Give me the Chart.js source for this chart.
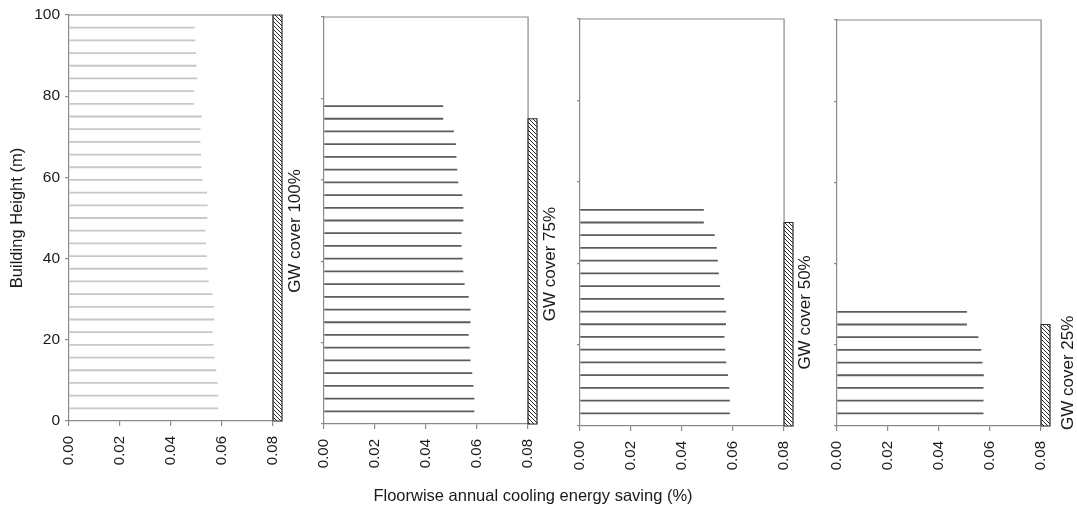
<!DOCTYPE html>
<html>
<head>
<meta charset="utf-8">
<script src="https://cdn.jsdelivr.net/npm/chart.js@4"></script>
<style>
  html, body { margin: 0; padding: 0; background: #fff; }
  #wrap { position: relative; width: 1077px; height: 510px; overflow: hidden; }
  #wrap canvas { position: absolute; top: 0; }
  #xtitle {
    position: absolute; left: 0; width: 1066px; top: 486px; text-align: center;
    font: 16.5px "Liberation Sans", Arial, sans-serif; color: #1a1a1a;
  }
</style>
</head>
<body>
<div id="wrap">
  <canvas id="c1" width="310" height="510" style="left:0px"></canvas>
  <canvas id="c2" width="256" height="510" style="left:310px"></canvas>
  <canvas id="c3" width="256" height="510" style="left:566px"></canvas>
  <canvas id="c4" width="255" height="510" style="left:822px"></canvas>
  <div id="xtitle">Floorwise annual cooling energy saving (%)</div>
</div>
<script>
// floor levels (m), bottom to top
const floorHeights = [3.125, 6.25, 9.375, 12.5, 15.625, 18.75, 21.875, 25, 28.125, 31.25,
  34.375, 37.5, 40.625, 43.75, 46.875, 50, 53.125, 56.25, 59.375, 62.5,
  65.625, 68.75, 71.875, 75, 78.125, 81.25, 84.375, 87.5, 90.625, 93.75, 96.875];

// floorwise saving, bottom floor first
const saving100 = [0.0584, 0.0584, 0.0582, 0.0576, 0.057, 0.0566, 0.0562, 0.0569, 0.0567, 0.0562,
  0.0546, 0.0541, 0.0539, 0.0536, 0.0533, 0.0541, 0.0542, 0.054, 0.0522, 0.0518,
  0.0516, 0.0514, 0.0514, 0.0519, 0.0489, 0.0489, 0.0502, 0.0499, 0.0497, 0.0494, 0.0491];
const saving75 = [0.0588, 0.0588, 0.0585, 0.058, 0.0573, 0.057, 0.0566, 0.0573, 0.0573, 0.0566,
  0.055, 0.0545, 0.0542, 0.0538, 0.0538, 0.0545, 0.0545, 0.0541, 0.0525, 0.0521,
  0.0518, 0.0516, 0.0508, 0.0466, 0.0466];
const saving50 = [0.0586, 0.0586, 0.0584, 0.0579, 0.0572, 0.0568, 0.0565, 0.0571, 0.0571, 0.0564,
  0.0548, 0.0543, 0.0539, 0.0535, 0.0527, 0.0484, 0.0484];
const saving25 = [0.0573, 0.0573, 0.0573, 0.0574, 0.0569, 0.0564, 0.0553, 0.0508, 0.0508];

const gwCover = [100, 75, 50, 25];            // green wall height (m)
const gwLabels = ['GW cover 100%', 'GW cover 75%', 'GW cover 50%', 'GW cover 25%'];
const xTicks = [0, 0.02, 0.04, 0.06, 0.08];
const yTicks = [0, 20, 40, 60, 80, 100];
const frameX = 0.08;
const gwBar = [0.08, 0.0835];                 // x extent of the hatched wall bar

Chart.defaults.font.family = '"Liberation Sans", Arial, sans-serif';
Chart.defaults.color = '#1a1a1a';

const axisGrey = '#8a8a8a';

function hatchPattern() {
  const c = document.createElement('canvas');
  c.width = 4; c.height = 4;
  const g = c.getContext('2d');
  g.fillStyle = '#fff';
  g.fillRect(0, 0, 4, 4);
  g.strokeStyle = '#2a2a2a';
  g.lineWidth = 1;
  g.beginPath();
  g.moveTo(0, 0); g.lineTo(4, 4);
  g.moveTo(-1, 3); g.lineTo(1, 5);
  g.moveTo(3, -1); g.lineTo(5, 1);
  g.stroke();
  return g.createPattern(c, 'repeat');
}

// rotated "GW cover" caption beside the wall bar
const gwText = {
  id: 'gwText',
  afterDraw(chart, args, opts) {
    const { ctx, chartArea, scales } = chart;
    ctx.save();
    ctx.translate(chartArea.right + opts.dx, scales.y.getPixelForValue(opts.at));
    ctx.rotate(-Math.PI / 2);
    ctx.font = '17px "Liberation Sans", Arial, sans-serif';
    ctx.fillStyle = '#1a1a1a';
    ctx.textAlign = 'center';
    ctx.textBaseline = 'middle';
    ctx.fillText(opts.text, 0, 0);
    ctx.restore();
  }
};

const panels = [
  { id: 'c1', data: saving100, yw: 69, pad: { top: 15, bottom: 29, right: 28 }, line: '#c8c8c8', first: true, at: 46.8, dx: 13 },
  { id: 'c2', data: saving75, yw: 14, pad: { top: 17, bottom: 26, right: 29 }, line: '#5c5c5c', first: false, at: 39.3, dx: 13 },
  { id: 'c3', data: saving50, yw: 14, pad: { top: 19, bottom: 24, right: 29 }, line: '#5c5c5c', first: false, at: 27.9, dx: 12.5 },
  { id: 'c4', data: saving25, yw: 15, pad: { top: 20, bottom: 24, right: 27 }, line: '#5c5c5c', first: false, at: 13.1, dx: 18 }
];

panels.forEach((p, i) => {
  const gw = gwCover[i];
  const floors = p.data.map((v, k) => ({ x: v, y: floorHeights[k] }));

  new Chart(document.getElementById(p.id), {
    type: 'bar',
    data: {
      datasets: [
        {
          type: 'line',
          data: [
            { x: gwBar[0], y: 0 }, { x: gwBar[1], y: 0 }, { x: gwBar[1], y: gw },
            { x: gwBar[0], y: gw }, { x: gwBar[0], y: 0 }
          ],
          borderColor: '#2e2e2e',
          borderWidth: 1.2,
          backgroundColor: hatchPattern(),
          fill: 'shape',
          pointRadius: 0,
          tension: 0,
          clip: false
        },
        {
          type: 'line',
          data: [{ x: 0, y: 100 }, { x: frameX, y: 100 }, { x: frameX, y: 0 }],
          borderColor: axisGrey,
          borderWidth: 1.2,
          fill: false,
          pointRadius: 0,
          tension: 0,
          clip: false
        },
        {
          type: 'bar',
          data: floors,
          backgroundColor: p.line,
          barThickness: 1.1,
          borderWidth: 0
        }
      ]
    },
    options: {
      indexAxis: 'y',
      responsive: false,
      animation: false,
      events: [],
      layout: { padding: { left: 0, top: p.pad.top, bottom: p.pad.bottom, right: p.pad.right } },
      plugins: {
        legend: { display: false },
        tooltip: { enabled: false },
        gwText: { text: gwLabels[i], at: p.at, dx: p.dx }
      },
      scales: {
        x: {
          type: 'linear',
          min: 0,
          max: gwBar[1],
          afterBuildTicks: s => { s.ticks = xTicks.map(v => ({ value: v })); },
          afterFit: s => { s.height = 60; },
          ticks: {
            autoSkip: false, minRotation: 90, maxRotation: 90, padding: 10,
            font: { size: 15 }, color: '#1a1a1a',
            callback: v => Number(v).toFixed(2)
          },
          grid: { drawOnChartArea: false, tickLength: 5, color: axisGrey, lineWidth: 1.2 },
          border: { color: axisGrey, width: 1.2 }
        },
        y: {
          type: 'linear',
          min: 0,
          max: 100,
          offset: false,
          afterBuildTicks: s => { s.ticks = yTicks.map(v => ({ value: v })); },
          afterFit: s => { s.width = p.yw; },
          ticks: { display: p.first, padding: 5, font: { size: 15.5 }, color: '#1a1a1a' },
          grid: { offset: false, drawOnChartArea: false, tickLength: p.first ? 4 : 3, color: axisGrey, lineWidth: 1.2 },
          border: { color: axisGrey, width: 1.2 },
          title: {
            display: p.first, text: 'Building Height (m)', color: '#1a1a1a',
            font: { size: 16.5 }, padding: { top: 8, bottom: 0 }
          }
        }
      }
    },
    plugins: [gwText]
  });
});
</script>
</body>
</html>
